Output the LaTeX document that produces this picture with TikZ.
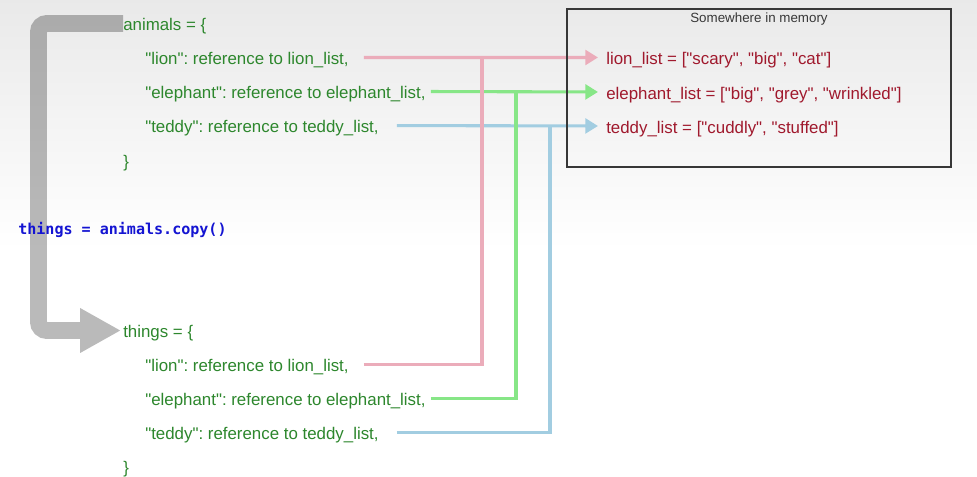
\documentclass[tikz,border=0pt]{standalone}
\usepackage{fontspec}
\setmainfont{Liberation Sans}[Ligatures=TeXOff]
\newfontfamily\copyfont{DejaVu Sans Mono}
\usepackage{tikz}
\usetikzlibrary{positioning,calc,arrows.meta}
\usepackage{xcolor}
\frenchspacing

\definecolor{codegreen}{RGB}{45,135,45}
\definecolor{memred}{RGB}{160,25,45}
\definecolor{copyblue}{RGB}{20,20,210}
\definecolor{lionpink}{RGB}{235,172,186}
\definecolor{elephgreen}{RGB}{135,230,135}
\definecolor{teddyblue}{RGB}{162,205,225}
\definecolor{boxgray}{RGB}{55,55,55}

\begin{document}
\begin{tikzpicture}[x=0.025cm,y=-0.025cm,
    code/.style={anchor=west,inner sep=0pt,text height=10.5pt,text depth=0pt,text=codegreen,font=\fontsize{12}{14}\selectfont},
    mem/.style={code,text=memred},
    ref/.style={line width=2.2pt},
    reftip/.style={ref,-{Triangle[length=9pt,width=10.5pt]},shorten >=5.7pt},
    copyarrow/.style={draw=black,line width=12pt,rounded corners=6pt,
        -{Triangle[length=28.5pt,width=32pt,line width=0pt]},shorten >=2pt}]

% background
\useasboundingbox (0,0) rectangle (977,477);
\shade[top color=gray!17,bottom color=white] (0,0) rectangle (977,250);
\fill[white] (0,250) rectangle (977,477);

% original dict
\node[code] (animals) at (123,23.5) {animals = \{};
\node[code] (lionA) [below right=0.85cm and 0.55cm of animals.west,anchor=west] {"lion": reference to lion\_list,};
\node[code] (elephA) [below=0.85cm of lionA.west,anchor=west] {"elephant": reference to elephant\_list,};
\node[code] (teddyA) [below=0.85cm of elephA.west,anchor=west] {"teddy": reference to teddy\_list,};
\node[code] (closeA) at (123,160) {\}};

% copied dict
\node[code] (things) at (123,330.5) {things = \{};
\node[code] (lionT) [below right=0.85cm and 0.55cm of things.west,anchor=west] {"lion": reference to lion\_list,};
\node[code] (elephT) [below=0.85cm of lionT.west,anchor=west] {"elephant": reference to elephant\_list,};
\node[code] (teddyT) [below=0.85cm of elephT.west,anchor=west] {"teddy": reference to teddy\_list,};
\node[code] (closeT) at (123,466.5) {\}};

% memory
\node[mem] (lionM) at (606,57.5) {lion\_list = ["scary", "big", "cat"]};
\node[mem] (elephM) at (606,92) {elephant\_list = ["big", "grey", "wrinkled"]};
\node[mem] (teddyM) at (606,126) {teddy\_list = ["cuddly", "stuffed"]};
\node[text=boxgray,font=\fontsize{9.5}{11}\selectfont] (memtitle) at (759,19) {Somewhere in memory};

% big copy arrow
\coordinate (bend) at (38.5,23.5);
\begin{scope}[transparency group,opacity=0.27]
\draw[copyarrow] (animals.west) -- (bend) |- (things.west);
\end{scope}
\node[anchor=base west,inner sep=0pt,text=copyblue,font=\copyfont\bfseries\fontsize{10.7}{13}\selectfont] (copy) at (18,235) {things = animals.copy()};

% references
\coordinate (lionK) at (482,57.5);
\coordinate (elephK) at (516,92);
\coordinate (teddyK) at (550,126);
\draw[reftip,lionpink,shorten <=10.7pt] (lionA.east) -- (lionM.west);
\draw[reftip,elephgreen,shorten <=3.6pt] (elephA.east) -- (elephM.west);
\draw[reftip,teddyblue,shorten <=12.8pt] (teddyA.east) -- (teddyM.west);
\draw[ref,lionpink,shorten <=10.7pt] (lionT.east) -| (lionK);
\draw[ref,elephgreen,shorten <=3.6pt] (elephT.east) -| (elephK);
\draw[ref,teddyblue,shorten <=12.8pt] (teddyT.east) -| (teddyK);

% memory box
\draw[boxgray,line width=1.1pt] (567,9) rectangle (951,167);
\end{tikzpicture}
\end{document}
